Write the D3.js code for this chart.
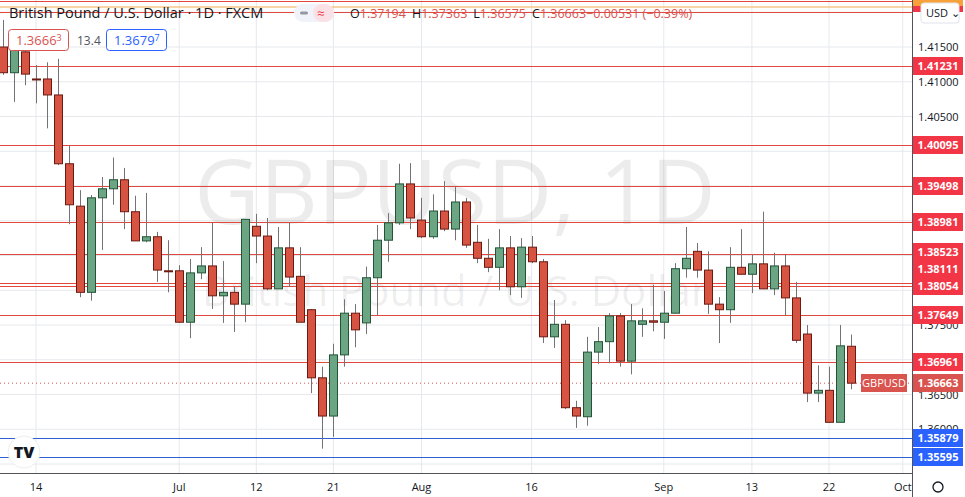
<!DOCTYPE html>
<html><head><meta charset="utf-8">
<script src="https://cdn.jsdelivr.net/npm/d3@7"></script>
<style>body{margin:0;background:#fff;font-family:"Open Sans","DejaVu Sans",sans-serif}</style>
</head><body><svg id="c" width="965" height="497"></svg>
<script>
const opens  = [1.4150,1.4113,1.4143,1.4104,1.4104,1.4081,1.3982,1.3921,1.3797,1.3933,1.3946,1.3959,1.3913,1.3871,1.3877,1.3828,1.3828,1.3754,1.3825,1.3835,1.3792,1.3797,1.3780,1.3892,1.3878,1.3802,1.3861,1.3820,1.3772,1.3674,1.3619,1.3707,1.3767,1.3753,1.3818,1.3872,1.3897,1.3953,1.3901,1.3877,1.3914,1.3888,1.3927,1.3869,1.3846,1.3833,1.3861,1.3805,1.3862,1.3841,1.3733,1.3751,1.3631,1.3618,1.3711,1.3726,1.3763,1.3698,1.3751,1.3756,1.3754,1.3767,1.3831,1.3856,1.3829,1.3780,1.3772,1.3833,1.3823,1.3838,1.3802,1.3835,1.3789,1.3737,1.3652,1.3656,1.3610,1.37194];
const highs  = [1.4189,1.4160,1.4160,1.4124,1.4128,1.4133,1.4008,1.3944,1.3937,1.3963,1.3991,1.3976,1.3936,1.3940,1.3884,1.3872,1.3836,1.3845,1.3862,1.3897,1.3842,1.3805,1.3902,1.3910,1.3904,1.3891,1.3897,1.3862,1.3773,1.3690,1.3723,1.3787,1.3780,1.3834,1.3894,1.3911,1.3982,1.3983,1.3933,1.3938,1.3957,1.3949,1.3933,1.3894,1.3874,1.3888,1.3878,1.3875,1.3878,1.3845,1.3786,1.3757,1.3641,1.3733,1.3747,1.3767,1.3767,1.3780,1.3774,1.3808,1.3799,1.3839,1.3891,1.3868,1.3856,1.3790,1.3862,1.3888,1.3851,1.3913,1.3854,1.3851,1.3812,1.3750,1.3692,1.3690,1.3750,1.37363];
const lows   = [1.4110,1.4071,1.4095,1.4069,1.4033,1.3980,1.3895,1.3790,1.3785,1.3858,1.3923,1.3888,1.3871,1.3869,1.3812,1.3797,1.3753,1.3731,1.3816,1.3773,1.3753,1.3740,1.3754,1.3839,1.3800,1.3802,1.3805,1.3754,1.3652,1.3572,1.3589,1.3690,1.3718,1.3737,1.3764,1.3841,1.3894,1.3888,1.3875,1.3874,1.3885,1.3872,1.3861,1.3839,1.3826,1.3800,1.3793,1.3789,1.3839,1.3724,1.3717,1.3629,1.3602,1.3605,1.3694,1.3695,1.3690,1.3679,1.3733,1.3741,1.3730,1.3767,1.3818,1.3818,1.3766,1.3724,1.3753,1.3823,1.3796,1.3802,1.3793,1.3764,1.3724,1.3639,1.3639,1.3609,1.3610,1.36575];
const closes = [1.4113,1.4150,1.4111,1.4103,1.4081,1.3982,1.3923,1.3797,1.3933,1.3946,1.3959,1.3913,1.3871,1.3877,1.3829,1.3827,1.3754,1.3825,1.3835,1.3792,1.3797,1.3780,1.3902,1.3878,1.3802,1.3861,1.3819,1.3754,1.3674,1.3619,1.3707,1.3767,1.3743,1.3818,1.3872,1.3897,1.3953,1.3904,1.3877,1.3914,1.3888,1.3927,1.3865,1.3846,1.3833,1.3861,1.3805,1.3862,1.3841,1.3733,1.3751,1.3631,1.3619,1.3711,1.3726,1.3763,1.3698,1.3756,1.3756,1.3754,1.3767,1.3831,1.3846,1.3829,1.3780,1.3772,1.3833,1.3823,1.3838,1.3802,1.3835,1.3789,1.3728,1.3652,1.3656,1.3610,1.3720,1.36663];
const dateTicks = [[3,"14"],[16,"Jul"],[23,"12"],[30,"21"],[38,"Aug"],[48,"16"],[60,"Sep"],[68,"13"],[75,"22"],[81.7,"Oct"]];
const priceTicks = [1.415,1.410,1.405,1.400,1.395,1.390,1.385,1.380,1.375,1.370,1.365,1.360,1.355,1.420];
const priceTickLabels = ["1.41500","1.41000","1.40500","1.37500","1.36500","1.36000"];
const redLevels = [1.4216,1.4200,1.41231,1.40095,1.39498,1.38981,1.38523,1.38111,1.38054,1.37649,1.36961];
const blueLevels = [1.35879,1.35595];
const lastPrice = 1.36663;

const svg = d3.select("#c");
const W=965,H=497,PR=912,PB=473;
const x = d3.scaleLinear().domain([0,77]).range([3,851]);
const y = d3.scaleLinear().domain([1.415,1.36]).range([47,429.25]);
const defs = svg.append("defs");
defs.append("clipPath").attr("id","pc").append("rect").attr("width",PR).attr("height",PB);
defs.append("clipPath").attr("id","pc2").append("rect").attr("width",PR).attr("height",H);
const g = svg.append("g").attr("clip-path","url(#pc)");
g.selectAll(".hg").data(priceTicks).join("line").attr("x1",0).attr("x2",PR).attr("y1",d=>y(d)).attr("y2",d=>y(d)).attr("stroke","#e6e8ec");
g.selectAll(".vg").data(dateTicks).join("line").attr("x1",d=>x(d[0])).attr("x2",d=>x(d[0])).attr("y1",0).attr("y2",PB).attr("stroke","#e6e8ec");
g.append("text").attr("x",455).attr("y",224).attr("text-anchor","middle").attr("font-size",90).attr("fill","#000").attr("fill-opacity",0.075).text("GBPUSD, 1D");
g.append("text").attr("x",455).attr("y",306).attr("text-anchor","middle").attr("font-size",42).attr("fill","#000").attr("fill-opacity",0.075).text("British Pound / U.S. Dollar");
g.append("line").attr("x1",0).attr("x2",PR).attr("y1",7).attr("y2",7).attr("stroke","#f7c68a").attr("stroke-width",1.5);
g.selectAll(".rl").data(redLevels).join("line").attr("x1",0).attr("x2",PR).attr("y1",d=>Math.round(y(d))+0.5).attr("y2",d=>Math.round(y(d))+0.5).attr("stroke","#e0483e").attr("stroke-width",1);
g.selectAll(".bl").data(blueLevels).join("line").attr("x1",0).attr("x2",PR).attr("y1",d=>Math.round(y(d))+0.5).attr("y2",d=>Math.round(y(d))+0.5).attr("stroke","#2e5fd3").attr("stroke-width",1);
g.append("line").attr("x1",0).attr("x2",PR).attr("y1",y(lastPrice)).attr("y2",y(lastPrice)).attr("stroke","#d9534f").attr("stroke-dasharray","1,3");
const data = opens.map((o,i)=>({i,o,h:highs[i],l:lows[i],c:closes[i]}));
g.selectAll(".wk").data(data).join("line").attr("x1",d=>Math.round(x(d.i))+0.5).attr("x2",d=>Math.round(x(d.i))+0.5)
 .attr("y1",d=>y(d.h)).attr("y2",d=>y(d.l)).attr("stroke","#737375");
g.selectAll(".bd").data(data).join("rect").attr("x",d=>Math.round(x(d.i))-3.5).attr("width",8)
 .attr("y",d=>y(Math.max(d.o,d.c))).attr("height",d=>Math.max(1,Math.abs(y(d.o)-y(d.c))))
 .attr("fill",d=>d.c>=d.o?"#6ba583":"#d75442").attr("stroke",d=>d.c>=d.o?"#225437":"#6b1a12").attr("stroke-width",1);
svg.append("line").attr("x1",PR+0.5).attr("x2",PR+0.5).attr("y1",0).attr("y2",H).attr("stroke","#50535e");
svg.append("line").attr("x1",0).attr("x2",PR).attr("y1",PB+0.5).attr("y2",PB+0.5).attr("stroke","#50535e");
const dl = svg.append("g").attr("clip-path","url(#pc2)");
dl.selectAll("text").data(dateTicks).join("text").attr("x",d=>x(d[0])).attr("y",491).attr("text-anchor","middle").attr("font-size",11).attr("fill","#131722").text(d=>d[1]);
svg.selectAll(".pl").data(priceTickLabels).join("text").attr("x",918).attr("y",d=>y(+d)+4).attr("font-size",11).attr("fill","#131722").text(d=>d);
const tags = redLevels.slice(2).map(v=>({v,col:"#f23645"})).concat([{v:lastPrice,col:"#d9534f"}],blueLevels.map(v=>({v,col:"#2962ff"})));
tags.sort((a,b)=>a.v-b.v); // bottom first, push upward on collision
let prev=1e9;
tags.forEach(t=>{let yy=Math.round(y(t.v)); if(yy>prev-17) yy=prev-17; t.yy=yy; prev=yy;});
tags.forEach(t=>{
  svg.append("rect").attr("x",PR+1).attr("y",t.yy-9).attr("width",50).attr("height",18).attr("fill",t.col);
  svg.append("text").attr("x",PR+26).attr("y",t.yy+4).attr("text-anchor","middle").attr("font-size",11).attr("font-weight","bold").attr("fill","#fff").text(t.v.toFixed(5));
});
svg.append("rect").attr("x",PR+1).attr("y",-6).attr("width",50).attr("height",12).attr("fill","#f23645");
svg.append("rect").attr("x",PR+1).attr("y",6).attr("width",50).attr("height",6).attr("fill","#f23645");
svg.append("rect").attr("x",PR+1).attr("y",-2).attr("width",50).attr("height",8).attr("fill","#f7a13a");
svg.append("rect").attr("x",921).attr("y",3).attr("width",38).attr("height",20).attr("rx",3).attr("fill","#fff").attr("stroke","#e0e3eb");
svg.append("text").attr("x",926).attr("y",17).attr("font-size",11).attr("fill","#131722").text("USD ⌄");
svg.append("rect").attr("x",861).attr("y",Math.round(y(lastPrice))-9).attr("width",46).attr("height",18).attr("fill","#d9534f");
svg.append("text").attr("x",884).attr("y",Math.round(y(lastPrice))+4).attr("text-anchor","middle").attr("font-size",11).attr("fill","#fff").text("GBPUSD");
svg.append("text").attr("x",9).attr("y",18).attr("font-size",14.5).attr("fill","#131722").text("British Pound / U.S. Dollar · 1D · FXCM");
svg.append("rect").attr("x",294).attr("y",4).attr("width",40).attr("height",18).attr("rx",9).attr("fill","#f0f3fa");
svg.append("rect").attr("x",313).attr("y",4).attr("width",21).attr("height",18).attr("rx",9).attr("fill","#fbe1e6");
svg.append("rect").attr("x",300).attr("y",11.5).attr("width",8).attr("height",3).attr("rx",1.5).attr("fill","#9598a1");
svg.append("text").attr("x",317).attr("y",18).attr("font-size",13).attr("fill","#f23645").text("≈");
const ohlc = svg.append("text").attr("x",350).attr("y",18).attr("font-size",12.5).attr("fill","#131722");
[["O","1.37194"],["H","1.37363"],["L","1.36575"],["C","1.36663"],["","−0.00531 (−0.39%)"]].forEach(([k,v],i)=>{
  ohlc.append("tspan").attr("dx",i?6:0).text(k);
  ohlc.append("tspan").attr("fill","#d9534f").text(v);
});
svg.append("rect").attr("x",8.5).attr("y",29.5).attr("width",60).attr("height",21).attr("rx",3).attr("fill","#fff").attr("stroke","#d9534f");
svg.append("text").attr("x",16).attr("y",45).attr("font-size",13).attr("fill","#d9534f").text("1.3666").append("tspan").attr("font-size",9).attr("dy",-4).text("3");
svg.append("text").attr("x",77).attr("y",45).attr("font-size",12).attr("fill","#50535e").text("13.4");
svg.append("rect").attr("x",106.5).attr("y",29.5).attr("width",60).attr("height",21).attr("rx",3).attr("fill","#fff").attr("stroke","#2962ff");
svg.append("text").attr("x",114).attr("y",45).attr("font-size",13).attr("fill","#2962ff").text("1.3679").append("tspan").attr("font-size",9).attr("dy",-4).text("7");
svg.append("circle").attr("cx",24).attr("cy",452).attr("r",16).attr("fill","#fff").attr("stroke","#eee");
svg.append("text").attr("x",24).attr("y",458).attr("text-anchor","middle").attr("font-size",16).attr("font-weight","900").attr("fill","#131722").text("TV");
svg.append("circle").attr("cx",938).attr("cy",487).attr("r",5).attr("fill","none").attr("stroke","#131722").attr("stroke-width",1.3);
</script></body></html>
